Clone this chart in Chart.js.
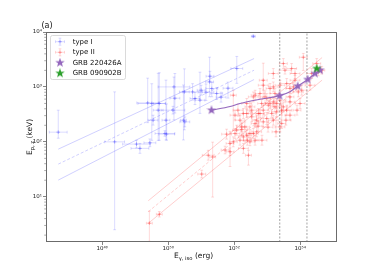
<!DOCTYPE html>
<html><head><meta charset="utf-8">
<script src="https://cdn.jsdelivr.net/npm/chart.js@4"></script>
<style>html,body{margin:0;padding:0;background:#fff;}canvas{display:block;}</style>
</head><body>
<canvas id="c" width="374" height="272"></canvas>
<script>
// ---------------- data ----------------
const xMin = 2.0e46, xMax = 1.3e55, yMin = 1.5, yMax = 1e4;
const xTickValues = [1e48, 1e50, 1e52, 1e54];
const yTickValues = [1e1, 1e2, 1e3, 1e4];
const legendLabels = ['type I', 'type II', 'GRB 220426A', 'GRB 090902B'];

// type I (E_iso in erg, Ep,z in keV, errors in dex)
const typeI_Eiso = [4.7e46, 2.4e48, 2.4e49, 3.2e49, 5.4e49, 1.5e50, 3.1e50, 5.5e50, 6.5e50, 9.2e50, 1.0e51, 1.8e51, 2.1e51, 1.85e51, 2.95e51, 1.2e52, 3.8e52, 1.4e50, 3.5e49, 9.0e49, 1.4e49, 2.8e49, 1.1e49, 2.9e50, 8.0e49, 5.0e49, 1.6e50, 8.6e49, 3.2e50, 4.0e51, 1.4e51, 6.5e51];
const typeI_Ep = [150, 100, 512, 499, 499, 1000, 811, 811, 615, 573, 871, 1233, 935, 1566, 759, 2162, 8350, 377, 248, 138, 76, 96, 91, 248, 142, 377, 623, 248, 231, 650, 801, 947];
const typeI_EisoErr = [0.27, 0.30, 0.33, 0.42, 0.18, 0.48, 0.15, 0.30, 0.15, 0.15, 0.12, 0.12, 0.18, 0.12, 0.18, 0.18, 0.06, 0.36, 0.15, 0.24, 0.27, 0.18, 0.42, 0.09, 0.30, 0.15, 0.15, 0.12, 0.15, 0.15, 0.24, 0.15];
const typeI_EpErrLo = [0.11, 1.60, 0.36, 0.67, 0.67, 0.60, 0.69, 0.15, 0.11, 0.24, 0.09, 0.27, 0.15, 0.09, 0.11, 0.27, 0.02, 0.07, 0.09, 0.11, 0.09, 0.07, 0.07, 0.36, 0.05, 0.55, 0.27, 0.36, 0.09, 0.09, 0.15, 0.18];
const typeI_EpErrHi = [0.40, 0.91, 0.45, 0.36, 0.56, 0.18, 0.42, 0.15, 0.11, 0.51, 0.09, 0.45, 0.11, 0.09, 0.11, 0.22, 0.02, 0.07, 0.09, 0.55, 0.09, 0.07, 0.07, 0.64, 0.05, 0.67, 0.45, 0.73, 0.09, 0.09, 0.15, 0.11];

// type II
const typeII_Eiso = [2.7e49, 5.4e49, 1.04e51, 1.64e51, 2.23e51, 5.3e51, 7.5e51, 5.9e51, 1.06e52, 9.4e51, 1.9e52, 2.5e52, 3.0e52, 2.7e52, 1.7e52, 3.4e52, 4.3e52, 4.8e52, 5.4e52, 6.8e52, 7.6e52, 9.7e52, 1.22e53, 1.37e53, 1.72e53, 2.44e53, 2.75e53, 3.9e53, 4.9e53, 8.6e52, 4.3e52, 3.4e52, 2.4e52, 7.5e51, 1.9e52, 7.6e52, 1.53e53, 3.46e53, 6.95e53, 2.44e53, 3.9e53, 1.22e53, 1.72e53, 6.05e52, 9.7e52, 1.24e54, 2.23e54, 3.53e54, 1.11e54, 4.9e53, 3.08e53, 3.0e52, 1.9e52, 6.05e52, 1.08e53, 1.53e53, 1.94e53, 7.6e52, 2.1e52, 1.19e52, 1.06e52, 9.4e51, 3.0e52, 1.98e54, 6.95e53, 4.9e53, 2.44e53, 7.6e52, 5.5e53, 3.08e53, 1.53e53, 3.8e52, 6.2e53, 8.75e53, 3.16e54, 4.5e54, 2.4e52, 4.8e52, 1.7e52, 1.53e53, 1.94e53, 2.75e53, 9.9e53, 4.9e53, 2.4e52, 1.5e52, 3.8e52, 1.85e53, 1.5e52, 5.3e52, 1.06e53, 6.95e52, 4.3e52, 1.3e52, 3.7e53, 8.0e53];
const typeII_Ep = [3.3, 4.8, 25.9, 57, 53, 71, 93.5, 138, 142, 100, 123, 107, 100, 57, 168, 285, 216, 152, 328, 499, 377, 266, 499, 328, 433, 573, 216, 377, 306, 658, 706, 377, 328, 66, 76, 1324, 1753, 2013, 1753, 1074, 1153, 935, 759, 759, 615, 3467, 1753, 1875, 871, 533, 433, 433, 328, 328, 465, 533, 351, 231, 187, 163, 306, 706, 142, 1074, 1324, 935, 187, 1074, 2163, 2663, 1000, 658, 1000, 811, 2663, 2013, 499, 248, 187, 248, 499, 377, 499, 658, 132, 107, 142, 152, 248, 193, 185, 107, 107, 377, 248, 377];
const typeII_EisoErr = [0.09, 0.09, 0.12, 0.18, 0.09, 0.12, 0.12, 0.15, 0.15, 0.12, 0.15, 0.12, 0.15, 0.09, 0.18, 0.15, 0.12, 0.15, 0.18, 0.12, 0.15, 0.18, 0.15, 0.12, 0.15, 0.18, 0.12, 0.15, 0.15, 0.15, 0.12, 0.15, 0.12, 0.12, 0.15, 0.12, 0.15, 0.18, 0.15, 0.15, 0.18, 0.12, 0.15, 0.15, 0.12, 0.12, 0.15, 0.12, 0.15, 0.15, 0.12, 0.15, 0.15, 0.12, 0.15, 0.12, 0.15, 0.15, 0.15, 0.12, 0.15, 0.09, 0.12, 0.15, 0.15, 0.12, 0.15, 0.15, 0.15, 0.12, 0.15, 0.15, 0.12, 0.15, 0.12, 0.09, 0.15, 0.12, 0.15, 0.15, 0.12, 0.15, 0.15, 0.12, 0.15, 0.12, 0.15, 0.12, 0.15, 0.12, 0.15, 0.15, 0.12, 0.15, 0.15, 0.12];
const typeII_EpErrLo = [0.33, 0.05, 0.07, 0.09, 0.73, 0.07, 0.42, 0.09, 0.09, 0.09, 0.07, 0.09, 0.07, 0.18, 0.11, 0.09, 0.07, 0.09, 0.09, 0.07, 0.09, 0.11, 0.09, 0.07, 0.09, 0.09, 0.09, 0.09, 0.09, 0.11, 0.09, 0.09, 0.07, 0.07, 0.09, 0.31, 0.09, 0.07, 0.09, 0.09, 0.09, 0.09, 0.09, 0.09, 0.09, 0.24, 0.09, 0.07, 0.09, 0.09, 0.09, 0.09, 0.09, 0.07, 0.09, 0.09, 0.09, 0.09, 0.09, 0.09, 0.09, 0.64, 0.07, 0.09, 0.09, 0.09, 0.09, 0.09, 0.09, 0.09, 0.09, 0.09, 0.09, 0.09, 0.09, 0.07, 0.09, 0.09, 0.09, 0.09, 0.09, 0.09, 0.09, 0.09, 0.09, 0.09, 0.09, 0.09, 0.09, 0.09, 0.09, 0.09, 0.09, 0.11, 0.09, 0.09];
const typeII_EpErrHi = [0.22, 0.05, 0.07, 0.09, 0.27, 0.07, 0.22, 0.09, 0.09, 0.09, 0.07, 0.09, 0.07, 0.09, 0.11, 0.09, 0.07, 0.09, 0.09, 0.07, 0.09, 0.11, 0.09, 0.07, 0.09, 0.09, 0.36, 0.09, 0.09, 0.11, 0.09, 0.09, 0.07, 0.07, 0.09, 0.31, 0.09, 0.07, 0.09, 0.09, 0.09, 0.09, 0.09, 0.09, 0.09, 0.07, 0.09, 0.07, 0.09, 0.09, 0.09, 0.09, 0.09, 0.07, 0.09, 0.09, 0.09, 0.09, 0.09, 0.09, 0.09, 0.09, 0.07, 0.09, 0.09, 0.09, 0.09, 0.09, 0.09, 0.09, 0.09, 0.09, 0.09, 0.09, 0.09, 0.07, 0.09, 0.09, 0.09, 0.09, 0.09, 0.09, 0.09, 0.09, 0.09, 0.09, 0.09, 0.27, 0.09, 0.09, 0.09, 0.09, 0.09, 0.11, 0.09, 0.09];

// fitted relations (end points)
const typeI_fitEiso = [4.7e46, 4.0e52];
const typeI_fitUpper = [73.6, 3283];
const typeI_fitMid = [39.3, 2013];
const typeI_fitLower = [20.1, 1363];
const typeII_fitEiso = [2.5e49, 4.6e54];
const typeII_fitUpper = [8.46, 3425];
const typeII_fitMid = [5.34, 2163];
const typeII_fitLower = [3.28, 1330];

// GRB 220426A track and points, GRB 090902B
const grb220426A_trackEiso = [2.05e51, 7.5e51, 1.5e52, 6.05e52, 2.36e53, 4.9e53, 8.4e53, 1.69e54, 2.8e54, 3.98e54];
const grb220426A_trackEp = [377, 440, 499, 597, 692, 818, 1030, 1364, 1753, 2013];
const grb220426A_Eiso = [2.05e51, 2.36e53, 8.4e53, 1.69e54, 2.8e54, 3.98e54];
const grb220426A_Ep = [377, 692, 1030, 1364, 1753, 2013];
const grb090902B_Eiso = [3.16e54];
const grb090902B_Ep = [2163];
const vlineEiso = [2.4e53, 1.6e54];

// ---------------- styles ----------------
const BLUE = 'rgba(30,30,255,0.2)';
const RED = 'rgba(255,20,20,0.2)';
const BLUE_LINE = 'rgba(40,40,255,0.22)';
const RED_LINE = 'rgba(255,30,30,0.22)';
const PURPLE = '#9467bd';
const GREEN = '#2ca02c';
const FONT = 'DejaVu Sans';
Chart.defaults.font.family = FONT;

function makeStar(color, size) {
  const c = document.createElement('canvas');
  c.width = size; c.height = size;
  const g = c.getContext('2d');
  g.beginPath();
  for (let i = 0; i < 10; i++) {
    const r = (i % 2) ? size * 0.2 : size * 0.5;
    const a = -Math.PI / 2 + i * Math.PI / 5;
    g.lineTo(size / 2 + r * Math.cos(a), size / 2 + r * Math.sin(a));
  }
  g.closePath(); g.fillStyle = color; g.fill();
  return c;
}
const starPurple = makeStar(PURPLE, 10);
const starGreen = makeStar(GREEN, 10);

function withErrors(xs, ys, xe, ylo, yhi) {
  return xs.map((x, i) => ({
    x: x, y: ys[i],
    xlo: x / Math.pow(10, xe[i]), xhi: x * Math.pow(10, xe[i]),
    ylo: ys[i] / Math.pow(10, ylo[i]), yhi: ys[i] * Math.pow(10, yhi[i])
  }));
}
function pts(xs, ys) { return xs.map((x, i) => ({x: x, y: ys[i]})); }
function lineDs(xs, ys, color, dash, order) {
  return {data: pts(xs, ys), showLine: true, pointRadius: 0, borderColor: color, borderWidth: 1,
          borderDash: dash, order: order, fill: false};
}

const datasets = [
  {label: legendLabels[0], data: withErrors(typeI_Eiso, typeI_Ep, typeI_EisoErr, typeI_EpErrLo, typeI_EpErrHi),
   errColor: BLUE, pointStyle: 'cross', pointRadius: 1.8, borderColor: 'rgba(30,30,255,0.3)', borderWidth: 1, order: 10},
  {label: legendLabels[1], data: withErrors(typeII_Eiso, typeII_Ep, typeII_EisoErr, typeII_EpErrLo, typeII_EpErrHi),
   errColor: RED, pointStyle: 'cross', pointRadius: 1.8, borderColor: 'rgba(255,20,20,0.3)', borderWidth: 1, order: 9},
  lineDs(typeI_fitEiso, typeI_fitUpper, BLUE_LINE, [], 8),
  lineDs(typeI_fitEiso, typeI_fitMid, BLUE_LINE, [3, 2], 8),
  lineDs(typeI_fitEiso, typeI_fitLower, BLUE_LINE, [], 8),
  lineDs(typeII_fitEiso, typeII_fitUpper, RED_LINE, [], 7),
  lineDs(typeII_fitEiso, typeII_fitMid, RED_LINE, [3, 2], 7),
  lineDs(typeII_fitEiso, typeII_fitLower, RED_LINE, [], 7),
  lineDs([vlineEiso[0], vlineEiso[0]], [yMin, yMax], 'rgba(90,90,90,0.55)', [2, 1.5], 6),
  lineDs([vlineEiso[1], vlineEiso[1]], [yMin, yMax], 'rgba(90,90,90,0.55)', [2, 1.5], 6),
  {data: pts(grb220426A_trackEiso, grb220426A_trackEp), showLine: true, pointRadius: 0, borderColor: PURPLE,
   borderWidth: 1.2, cubicInterpolationMode: 'monotone', order: 5},
  {label: legendLabels[2], data: pts(grb220426A_Eiso, grb220426A_Ep), pointStyle: starPurple, pointRadius: 5, order: 4},
  {label: legendLabels[3], data: pts(grb090902B_Eiso, grb090902B_Ep), pointStyle: starGreen, pointRadius: 5, order: 3}
];

const SUP = {'0':'⁰','1':'¹','2':'²','3':'³','4':'⁴','5':'⁵','6':'⁶','7':'⁷','8':'⁸','9':'⁹','-':'⁻'};
function pow10Label(v) {
  const e = String(Math.round(Math.log10(v)));
  return '10' + e.split('').map(ch => SUP[ch]).join('');
}

const errorBarPlugin = {
  id: 'errbars',
  beforeDatasetDraw(chart, args) {
    const ds = chart.data.datasets[args.index];
    if (!ds.errColor) return;
    const ctx = chart.ctx, xs = chart.scales.x, ys = chart.scales.y, a = chart.chartArea;
    ctx.save();
    ctx.beginPath(); ctx.rect(a.left, a.top, a.right - a.left, a.bottom - a.top); ctx.clip();
    ctx.strokeStyle = ds.errColor; ctx.lineWidth = 0.8;
    const cap = 1.4;
    ds.data.forEach(p => {
      const px = xs.getPixelForValue(p.x), py = ys.getPixelForValue(p.y);
      const x0 = xs.getPixelForValue(p.xlo), x1 = xs.getPixelForValue(p.xhi);
      const y0 = ys.getPixelForValue(p.ylo), y1 = ys.getPixelForValue(p.yhi);
      ctx.beginPath();
      ctx.moveTo(x0, py); ctx.lineTo(x1, py);
      ctx.moveTo(x0, py - cap); ctx.lineTo(x0, py + cap);
      ctx.moveTo(x1, py - cap); ctx.lineTo(x1, py + cap);
      ctx.stroke();
      ctx.beginPath();
      ctx.moveTo(px, y0); ctx.lineTo(px, y1);
      ctx.moveTo(px - cap, y0); ctx.lineTo(px + cap, y0);
      ctx.moveTo(px - cap, y1); ctx.lineTo(px + cap, y1);
      ctx.stroke();
    });
    ctx.restore();
  }
};

function drawSubText(ctx, parts, size, cx, cy, rotate) {
  const subSize = size * 0.7;
  let total = 0;
  parts.forEach(p => { ctx.font = (p.sub ? subSize : size) + 'px ' + FONT; p.w = ctx.measureText(p.t).width; total += p.w; });
  ctx.save();
  ctx.translate(cx, cy);
  if (rotate) ctx.rotate(-Math.PI / 2);
  ctx.fillStyle = '#111'; ctx.textBaseline = 'alphabetic'; ctx.textAlign = 'left';
  let x = -total / 2;
  const base = size * 0.35;
  parts.forEach(p => {
    ctx.font = (p.sub ? subSize : size) + 'px ' + FONT;
    ctx.fillText(p.t, x, base + (p.sub ? size * 0.25 : 0));
    x += p.w;
  });
  ctx.restore();
}

const decorPlugin = {
  id: 'decor',
  afterDraw(chart) {
    const ctx = chart.ctx, a = chart.chartArea, ys = chart.scales.y;
    ctx.save();
    // frame
    ctx.strokeStyle = '#6b6b6b'; ctx.lineWidth = 1;
    ctx.strokeRect(Math.round(a.left) + 0.5, Math.round(a.top) + 0.5, Math.round(a.right - a.left) - 1, Math.round(a.bottom - a.top) - 1);
    // y minor ticks
    ctx.strokeStyle = '#777'; ctx.lineWidth = 0.6;
    for (let d = 0; d < 4; d++) {
      for (let m = 2; m <= 9; m++) {
        const v = m * Math.pow(10, d);
        if (v < yMin || v > yMax) continue;
        const py = ys.getPixelForValue(v);
        ctx.beginPath(); ctx.moveTo(a.left, py); ctx.lineTo(a.left - 1.8, py); ctx.stroke();
      }
    }
    // panel label
    ctx.fillStyle = '#111'; ctx.font = '8px ' + FONT; ctx.textBaseline = 'middle'; ctx.textAlign = 'left';
    ctx.fillText('(a)', 41.5, 26);
    // axis titles
    drawSubText(ctx, [{t: 'E'}, {t: 'γ, iso', sub: true}, {t: ' (erg)'}], 7.5, (a.left + a.right) / 2 + 2, 255, false);
    drawSubText(ctx, [{t: 'E'}, {t: 'p, z', sub: true}, {t: ' (keV)'}], 7.5, 29, (a.top + a.bottom) / 2, true);
    // legend
    const lx = 50.5, ly = 35.5, lw = 75, lh = 44;
    ctx.beginPath();
    ctx.roundRect(lx, ly, lw, lh, 2);
    ctx.fillStyle = 'rgba(255,255,255,0.85)'; ctx.fill();
    ctx.strokeStyle = '#d0d0d0'; ctx.lineWidth = 0.8; ctx.stroke();
    const rows = [41.7, 52.3, 62.7, 73.3];
    const mx = 60;
    [[BLUE, 'rgba(30,30,255,0.3)'], [RED, 'rgba(255,20,20,0.3)']].forEach((cols, i) => {
      const y = rows[i];
      ctx.strokeStyle = cols[0]; ctx.lineWidth = 0.8;
      ctx.beginPath();
      ctx.moveTo(mx - 4.5, y); ctx.lineTo(mx + 4.5, y);
      ctx.moveTo(mx - 4.5, y - 1.4); ctx.lineTo(mx - 4.5, y + 1.4);
      ctx.moveTo(mx + 4.5, y - 1.4); ctx.lineTo(mx + 4.5, y + 1.4);
      ctx.moveTo(mx, y - 3.5); ctx.lineTo(mx, y + 3.5);
      ctx.moveTo(mx - 1.4, y - 3.5); ctx.lineTo(mx + 1.4, y - 3.5);
      ctx.moveTo(mx - 1.4, y + 3.5); ctx.lineTo(mx + 1.4, y + 3.5);
      ctx.stroke();
      ctx.strokeStyle = cols[1]; ctx.lineWidth = 1;
      ctx.beginPath(); ctx.moveTo(mx - 1.8, y); ctx.lineTo(mx + 1.8, y); ctx.moveTo(mx, y - 1.8); ctx.lineTo(mx, y + 1.8); ctx.stroke();
    });
    ctx.drawImage(starPurple, mx - 5, rows[2] - 5);
    ctx.drawImage(starGreen, mx - 5, rows[3] - 5);
    ctx.fillStyle = '#111'; ctx.font = '7px ' + FONT; ctx.textBaseline = 'middle'; ctx.textAlign = 'left';
    legendLabels.forEach((t, i) => ctx.fillText(t, 72.7, rows[i] + 0.3));
    ctx.restore();
  }
};

new Chart(document.getElementById('c'), {
  type: 'scatter',
  data: {datasets: datasets},
  options: {
    responsive: false, animation: false, devicePixelRatio: 1,
    layout: {padding: {top: 32, right: 37, left: 0, bottom: 0}},
    plugins: {legend: {display: false}, tooltip: {enabled: false}},
    scales: {
      x: {
        type: 'logarithmic', min: xMin, max: xMax,
        afterBuildTicks: s => { s.ticks = xTickValues.map(v => ({value: v})); },
        afterFit: s => { s.height = 30; },
        ticks: {callback: v => pow10Label(v), font: {size: 5.5}, color: '#222', padding: 0, maxRotation: 0, minRotation: 0, autoSkip: false},
        grid: {display: true, drawOnChartArea: false, drawTicks: true, tickLength: 3, tickColor: '#666', tickWidth: 0.8},
        border: {display: false}
      },
      y: {
        type: 'logarithmic', min: yMin, max: yMax,
        afterBuildTicks: s => { s.ticks = yTickValues.map(v => ({value: v})); },
        afterFit: s => { s.width = 46; },
        ticks: {callback: v => pow10Label(v), font: {size: 5.5}, color: '#222', padding: 1, autoSkip: false},
        grid: {display: true, drawOnChartArea: false, drawTicks: true, tickLength: 3, tickColor: '#666', tickWidth: 0.8},
        border: {display: false}
      }
    }
  },
  plugins: [errorBarPlugin, decorPlugin]
});
</script>
</body></html>
